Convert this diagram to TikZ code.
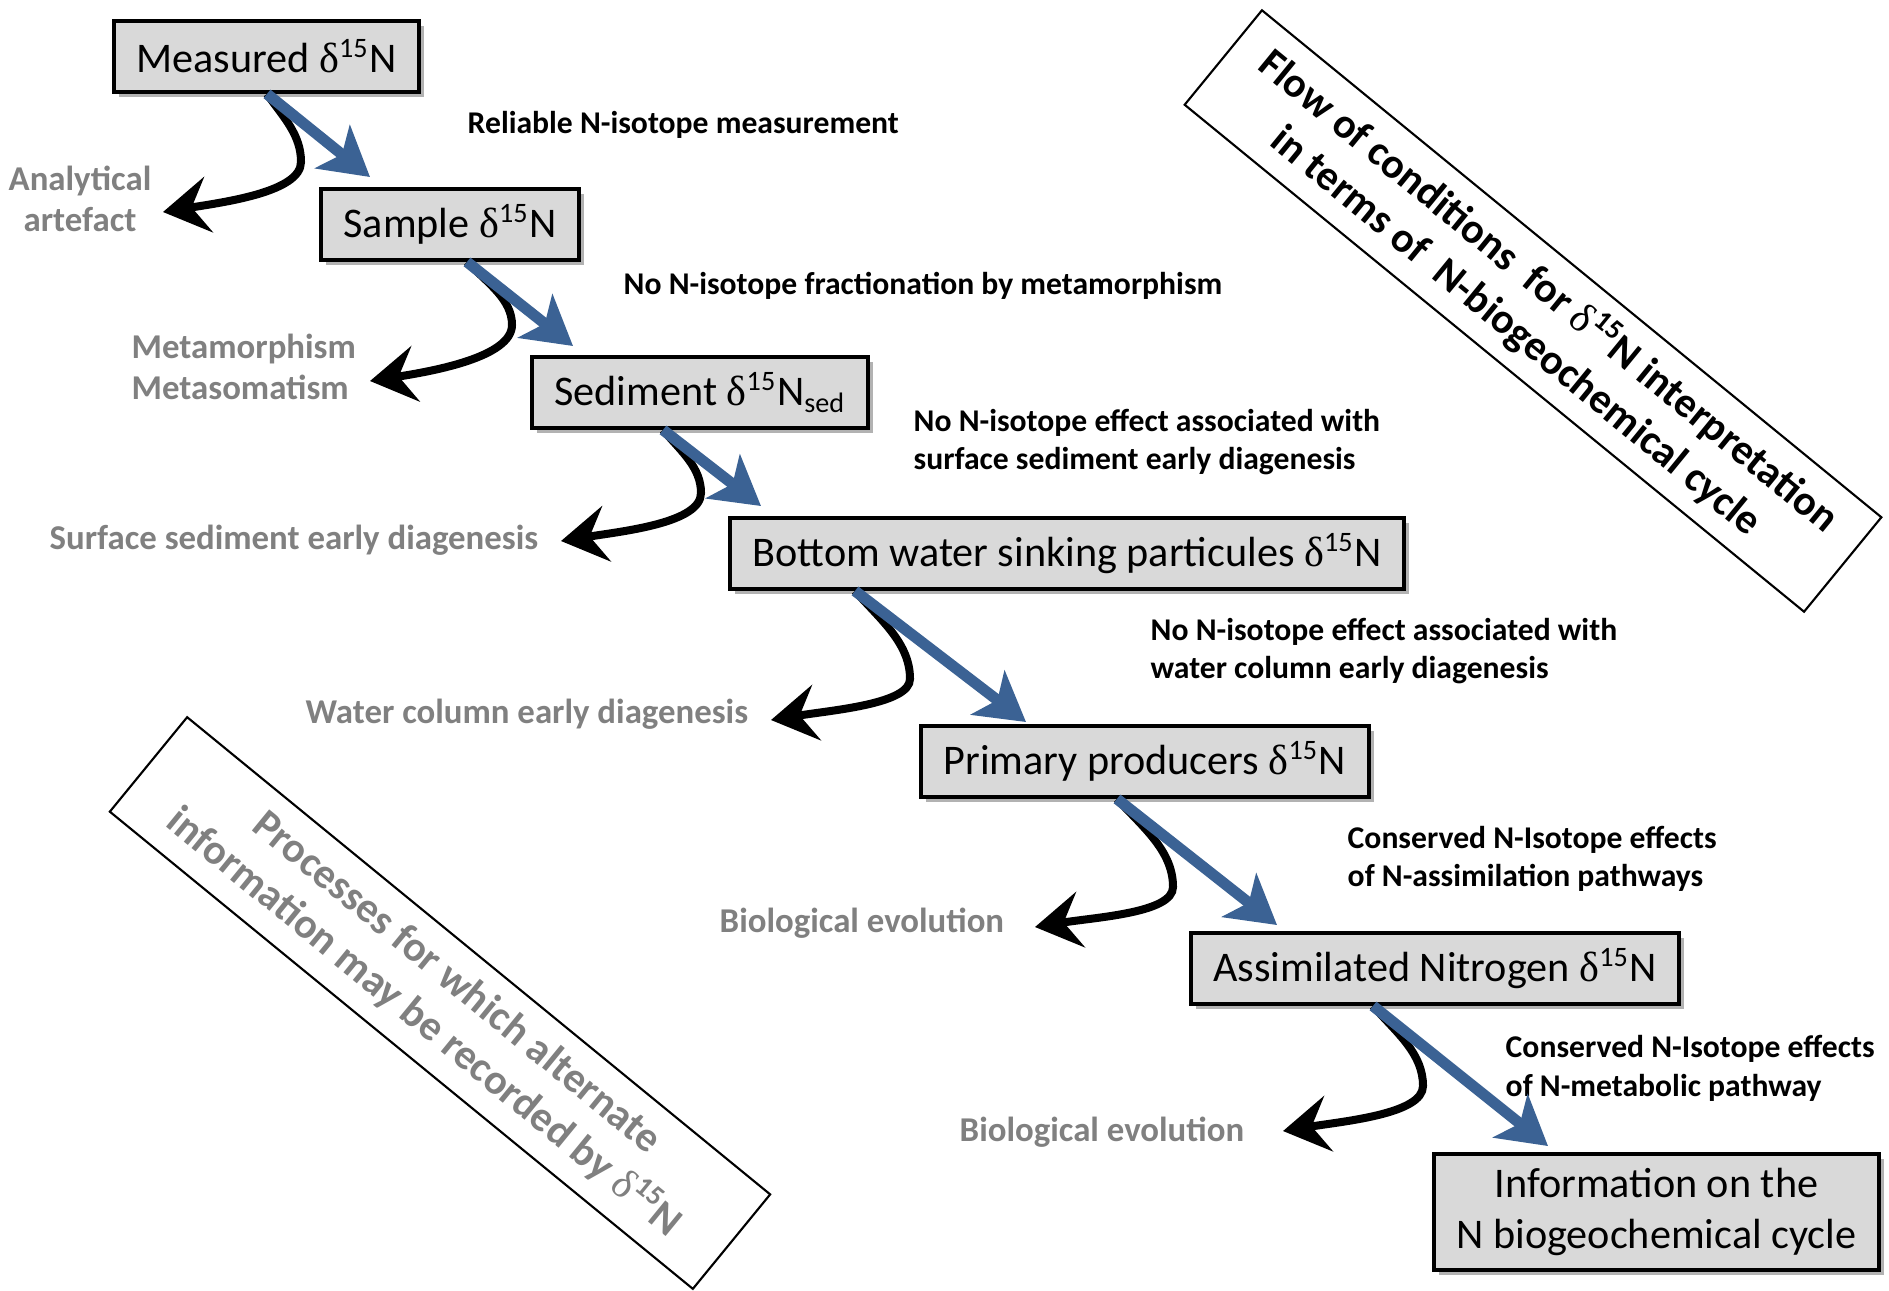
\documentclass[tikz,border=0pt]{standalone}
\usepackage{fontspec}
\setmainfont{Carlito}
\newfontfamily\grk{Liberation Serif}
\usepackage{tikz}
\usetikzlibrary{arrows.meta, calc, shadows}
\definecolor{flowBlue}{RGB}{59, 98, 148}
\definecolor{boxGrey}{RGB}{217, 217, 217}
\definecolor{procGrey}{RGB}{128, 128, 128}
\newcommand{\dN}{{\grk\mdseries δ}\textsuperscript{15}N}

\begin{document}
\begin{tikzpicture}[
            x=0.01cm, y=-0.01cm,
            % Styles
            box/.style={
                draw=black, line width=1.1pt, fill=boxGrey, anchor=north west, align=center,
                minimum height=0.71cm, inner xsep=0.225cm, inner ysep=0.14cm,
                font=\fontsize{12}{14.6}\selectfont,
                drop shadow={shadow xshift=0.05cm, shadow yshift=-0.05cm, opacity=0.3, fill=black}
            },
            cond/.style={
                anchor=west, align=left, inner sep=0pt, font=\fontsize{9}{11}\selectfont\bfseries
            },
            proc/.style={
                anchor=west, align=left, inner sep=0pt, text=procGrey,
                font=\fontsize{9.9}{11.7}\selectfont\bfseries
            },
            banner/.style={
                draw=black, line width=0.6pt, rotate=-39.3, align=center,
                minimum height=1.22cm, font=\fontsize{12}{14.6}\selectfont\bfseries
            },
            flow/.style={
                draw=flowBlue, line width=0.11cm, -{Stealth[length=0.48cm, width=0.55cm, inset=0.12cm]}
            },
            lost/.style={
                draw=black, line width=0.08cm, -{Stealth[length=0.46cm, width=0.56cm, inset=0.17cm]}
            }
        ]
            \useasboundingbox (0,0) rectangle (1889,1290);

            % --- Boxes ---
            \node[box] (meas) at (112,19) {Measured \dN};
            \node[box] (samp) at (319,187) {Sample \dN};
            \node[box] (sed) at (530,355) {Sediment \dN\textsubscript{sed}};
            \node[box] (bot) at (728,516) {Bottom water sinking particules \dN};
            \node[box] (prim) at (919,724) {Primary producers \dN};
            \node[box] (assim) at (1189,931) {Assimilated Nitrogen \dN};
            \node[box] (info) at (1432,1152) {Information on the\\N biogeochemical cycle};

            % --- Conditions (black) ---
            \node[cond] (c1) at (467,125) {Reliable N-isotope measurement};
            \node[cond] (c2) at (623,286) {No N-isotope fractionation by metamorphism};
            \node[cond] (c3) at (913,442) {No N-isotope effect associated with\\surface sediment early diagenesis};
            \node[cond] (c4) at (1150,651) {No N-isotope effect associated with\\water column early diagenesis};
            \node[cond] (c5) at (1347,859) {Conserved N-Isotope effects\\of N-assimilation pathways};
            \node[cond] (c6) at (1505,1068) {Conserved N-Isotope effects\\of N-metabolic pathway};

            % --- Processes (grey) ---
            \node[proc, anchor=center, align=center] (p1) at (80,199) {Analytical\\artefact};
            \node[proc] (p2) at (131,367) {Metamorphism\\Metasomatism};
            \node[proc] (p3) at (49,540) {Surface sediment early diagenesis};
            \node[proc] (p4) at (305,714) {Water column early diagenesis};
            \node[proc] (p5) at (719,923) {Biological evolution};
            \node[proc] (p6) at (959,1132) {Biological evolution};

            % --- Tilted banners ---
            \node[banner, minimum width=8cm] (flowtxt) at (1533,311)
                {Flow of conditions\ \ for \dN\ interpretation\\in terms of\ \ N-biogeochemical cycle};
            \node[banner, minimum width=7.53cm, text=procGrey] (proctxt) at (440,1003)
                {Processes for which alternate\\information may be recorded by \dN};

            % --- Arrow ends ---
            \coordinate (e1) at (163,212);
            \coordinate (e2) at (370,381);
            \coordinate (e3) at (561,541);
            \coordinate (e4) at (771,720);
            \coordinate (e5) at (1035,927);
            \coordinate (e6) at (1283,1131);

            % --- Lost-signal arrows (black) ---
            \draw[lost] ($(meas.south west)+(155,0)$) .. controls +(17,24) and +(0,-27) .. ++(34,68)
                .. controls +(0,30) and +(62,-10) .. (e1);
            \draw[lost] ($(samp.south west)+(148,0)$) .. controls +(22,22) and +(0,-25) .. ++(45,63)
                .. controls +(0,32) and +(64,-10) .. (e2);
            \draw[lost] ($(sed.south west)+(133,0)$) .. controls +(19,22) and +(0,-25) .. ++(38,63)
                .. controls +(0,30) and +(63,-10) .. (e3);
            \draw[lost] ($(bot.south west)+(127,0)$) .. controls +(27,30) and +(0,-35) .. ++(55,88)
                .. controls +(0,25) and +(62,-10) .. (e4);
            \draw[lost] ($(prim.south west)+(198,0)$) .. controls +(28,30) and +(0,-35) .. ++(56,88)
                .. controls +(0,26) and +(62,-10) .. (e5);
            \draw[lost] ($(assim.south west)+(184,0)$) .. controls +(25,28) and +(0,-32) .. ++(50,80)
                .. controls +(0,28) and +(62,-10) .. (e6);

            % --- Flow arrows (blue) ---
            \draw[flow] ($(meas.south west)+(155,0)$) -- ($(samp.north west)+(51,-10)$);
            \draw[flow] ($(samp.south west)+(148,0)$) -- ($(sed.north west)+(43,-9)$);
            \draw[flow] ($(sed.south west)+(133,0)$) -- ($(bot.north west)+(33,-10)$);
            \draw[flow] ($(bot.south west)+(127,0)$) -- ($(prim.north west)+(107,-2)$);
            \draw[flow] ($(prim.south west)+(198,0)$) -- ($(assim.north west)+(88,-6)$);
            \draw[flow] ($(assim.south west)+(184,0)$) -- ($(info.north west)+(116,-6)$);

        \end{tikzpicture}
\end{document}
